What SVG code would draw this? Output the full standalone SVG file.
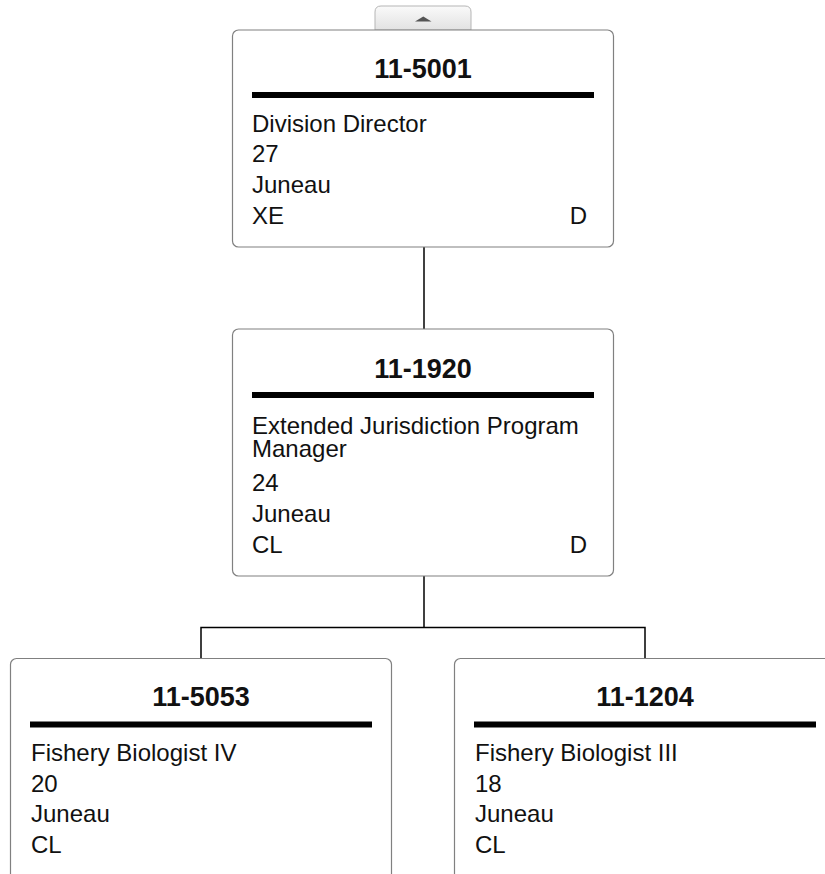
<svg xmlns="http://www.w3.org/2000/svg" width="825" height="874" viewBox="0 0 825 874">
<defs>
<linearGradient id="tabg" x1="0" y1="0" x2="0" y2="1">
<stop offset="0" stop-color="#fafafa"/>
<stop offset="1" stop-color="#e2e2e2"/>
</linearGradient>
</defs>
<style>
.box{fill:#fff;stroke:#808080;stroke-width:1.2}
.bar{fill:#000}
.t{font-family:"Liberation Sans",Arial,sans-serif;font-size:27px;font-weight:bold;text-anchor:middle;fill:#111}
.l{font-family:"Liberation Sans",Arial,sans-serif;font-size:24px;fill:#111}
.r{text-anchor:end}
.c{fill:none;stroke:#000;stroke-width:1.5}
</style>
<rect width="825" height="874" fill="#fff"/>
<g id="connectors">
<line class="c" x1="424" y1="247" x2="424" y2="329"/>
<polyline class="c" points="424,576 424,627.5"/>
<polyline class="c" points="201,658 201,627.5 645,627.5 645,658"/>
</g>
<g id="tab">
<path d="M375,30 V12 Q375,6 381,6 H465 Q471,6 471,12 V30 Z" fill="url(#tabg)" stroke="#b5b5b5" stroke-width="1"/>
<polygon points="415,21.5 431.5,21.5 423.3,16.5" fill="#555"/>
</g>
<g id="n11-5001">
<rect class="box" x="232.5" y="30" width="381" height="217" rx="6"/>
<text class="t" x="423" y="78">11-5001</text>
<rect class="bar" x="252" y="92" width="342" height="6"/>
<text class="l" x="252" y="132">Division Director</text>
<text class="l" x="252" y="162">27</text>
<text class="l" x="252" y="193">Juneau</text>
<text class="l" x="252" y="224">XE</text>
<text class="l r" x="587" y="224">D</text>
</g>
<g id="n11-1920">
<rect class="box" x="232.5" y="329" width="381" height="247" rx="6"/>
<text class="t" x="423" y="378">11-1920</text>
<rect class="bar" x="252" y="392" width="342" height="6"/>
<text class="l" x="252" y="434">Extended Jurisdiction Program</text>
<text class="l" x="252" y="457">Manager</text>
<text class="l" x="252" y="491">24</text>
<text class="l" x="252" y="522">Juneau</text>
<text class="l" x="252" y="553">CL</text>
<text class="l r" x="587" y="553">D</text>
</g>
<g id="n11-5053">
<rect class="box" x="10.5" y="658.5" width="381" height="240" rx="6"/>
<text class="t" x="201" y="706">11-5053</text>
<rect class="bar" x="30" y="721.5" width="342" height="6"/>
<text class="l" x="31" y="761">Fishery Biologist IV</text>
<text class="l" x="31" y="792">20</text>
<text class="l" x="31" y="822">Juneau</text>
<text class="l" x="31" y="853">CL</text>
</g>
<g id="n11-1204">
<rect class="box" x="454.5" y="658.5" width="381" height="240" rx="6"/>
<text class="t" x="645" y="706">11-1204</text>
<rect class="bar" x="474" y="721.5" width="342" height="6"/>
<text class="l" x="475" y="761">Fishery Biologist III</text>
<text class="l" x="475" y="792">18</text>
<text class="l" x="475" y="822">Juneau</text>
<text class="l" x="475" y="853">CL</text>
</g>
</svg>
